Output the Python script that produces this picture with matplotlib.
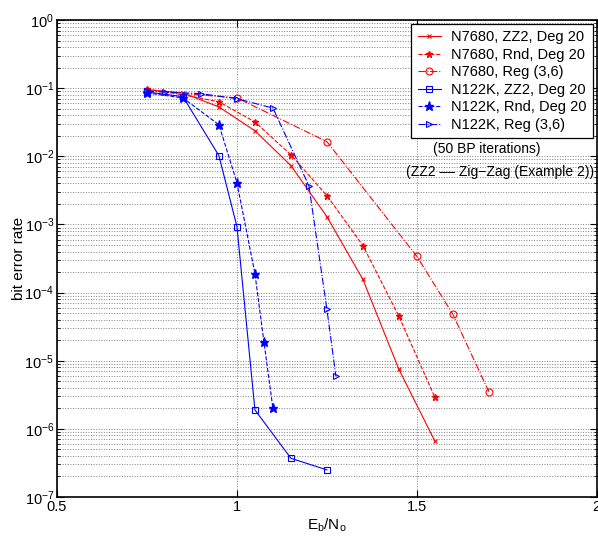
import numpy as np
import matplotlib
matplotlib.use("Agg")
import matplotlib.pyplot as plt
from matplotlib.ticker import LogLocator, NullFormatter

plt.rcParams['font.family'] = ['Liberation Sans', 'DejaVu Sans']
plt.rcParams['mathtext.fontset'] = 'custom'
plt.rcParams['mathtext.rm'] = 'Liberation Sans'

# N7680 curves
snr_7680 = [0.75, 0.85, 0.95, 1.05, 1.15, 1.25, 1.35, 1.45, 1.55]
ber_7680_zz2 = [0.095, 0.085, 0.053, 0.0237, 0.0073, 1.3e-3, 1.56e-4, 7.5e-6, 6.6e-7]
ber_7680_rnd = [0.097, 0.08, 0.063, 0.032, 0.0105, 2.65e-3, 4.9e-4, 4.5e-5, 2.9e-6]
snr_7680_reg = [0.75, 1.0, 1.25, 1.5, 1.6, 1.7]
ber_7680_reg = [0.092, 0.072, 0.0164, 3.4e-4, 4.8e-5, 3.5e-6]

# N122K curves
snr_122k_zz2 = [0.75, 0.85, 0.95, 1.0, 1.05, 1.15, 1.25]
ber_122k_zz2 = [0.088, 0.075, 0.0102, 9.3e-4, 1.9e-6, 3.7e-7, 2.5e-7]
snr_122k_rnd = [0.75, 0.85, 0.95, 1.0, 1.05, 1.075, 1.1]
ber_122k_rnd = [0.085, 0.072, 0.029, 4.1e-3, 1.9e-4, 1.9e-5, 2.0e-6]
snr_122k_reg = [0.75, 0.8, 0.9, 1.0, 1.1, 1.2, 1.25, 1.275]
ber_122k_reg = [0.09, 0.088, 0.083, 0.07, 0.051, 3.7e-3, 5.7e-5, 5.9e-6]

labels = ["N7680, ZZ2, Deg 20", "N7680, Rnd, Deg 20", "N7680, Reg (3,6)",
          "N122K, ZZ2, Deg 20", "N122K, Rnd, Deg 20", "N122K, Reg (3,6)"]

fig = plt.figure(figsize=(5.98, 5.38), dpi=100)
ax = fig.add_axes([0.0953, 0.0762, 0.9027, 0.8866])

lw = 0.8
ax.semilogy(snr_7680, ber_7680_zz2, color='red', ls='-', lw=lw, marker='x', ms=3.5, mew=0.8, label=labels[0])
ax.semilogy(snr_7680, ber_7680_rnd, color='red', ls='--', lw=lw, marker='*', ms=4.5, label=labels[1])
ax.semilogy(snr_7680_reg, ber_7680_reg, color='red', ls='-.', lw=lw, marker='o', ms=5, mfc='none', mew=0.8, label=labels[2])
ax.semilogy(snr_122k_zz2, ber_122k_zz2, color='blue', ls='-', lw=lw, marker='s', ms=4, mfc='none', mew=0.8, label=labels[3])
ax.semilogy(snr_122k_rnd, ber_122k_rnd, color='blue', ls='--', lw=lw, marker='*', ms=6.5, label=labels[4])
ax.semilogy(snr_122k_reg, ber_122k_reg, color='blue', ls='-.', lw=lw, marker='>', ms=5, mfc='none', mew=0.8, label=labels[5])

ax.set_xlim(0.5, 2)
ax.set_ylim(1e-7, 1)
ax.set_xticks([0.5, 1, 1.5, 2])
ax.set_xticklabels(['0.5', '1', '1.5', '2'])
ax.yaxis.set_major_locator(LogLocator(base=10, numticks=10))
ax.yaxis.set_minor_locator(LogLocator(base=10, subs=np.arange(2, 10), numticks=20))
ax.yaxis.set_minor_formatter(NullFormatter())
ax.tick_params(which='both', direction='in', top=True, right=True, labelsize=10.5, pad=2)
ax.tick_params(which='major', length=5)
ax.tick_params(which='minor', length=2.5)
ax.grid(True, which='major', ls=':', color='0.5', lw=0.7)
ax.grid(True, which='minor', axis='y', ls=':', color='0.5', lw=0.7)
for s in ax.spines.values():
    s.set_linewidth(1.2)

ax.set_xlabel(r'E$_\mathregular{b}$/N$_\mathregular{o}$', fontsize=11, labelpad=2)
ax.set_ylabel('bit error rate', fontsize=11, labelpad=-1)

leg = ax.legend(loc='upper right', fontsize=10.5, handlelength=1.6, borderaxespad=0.25,
                labelspacing=0.24, handletextpad=0.7, borderpad=0.45, fancybox=False,
                framealpha=1, edgecolor='black')
leg.get_frame().set_linewidth(0.9)

ax.text(0.796, 0.73, '(50 BP iterations)', transform=ax.transAxes, ha='center', va='center', fontsize=10)
ax.text(0.82, 0.681, '(ZZ2 \u2013\u2013 Zig\u2212Zag (Example 2))', transform=ax.transAxes,
        ha='center', va='center', fontsize=10)

fig.savefig('out.png', dpi=100)
